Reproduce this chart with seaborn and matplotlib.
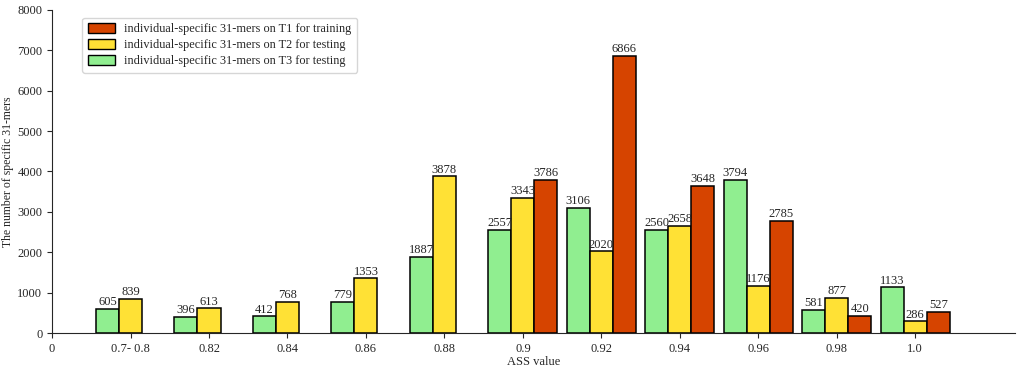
import numpy as np
import matplotlib
matplotlib.use("Agg")
import matplotlib.pyplot as plt
import pandas as pd
import seaborn as sns
from matplotlib.patches import Patch

# ASS value groups
groups = ["0.7- 0.8", "0.82", "0.84", "0.86", "0.88", "0.9", "0.92", "0.94", "0.96", "0.98", "1.0"]
t3_test = [605, 396, 412, 779, 1887, 2557, 3106, 2560, 3794, 581, 1133]
t2_test = [839, 613, 768, 1353, 3878, 3343, 2020, 2658, 1176, 877, 286]
t1_train = [np.nan, np.nan, np.nan, np.nan, np.nan, 3786, 6866, 3648, 2785, 420, 527]

series = ["T3", "T2", "T1"]
labels = {
    "T1": "individual-specific 31-mers on T1 for training",
    "T2": "individual-specific 31-mers on T2 for testing",
    "T3": "individual-specific 31-mers on T3 for testing",
}
colors = {"T3": "#90EE90", "T2": "#FFE135", "T1": "#D64400"}

pos = np.arange(1, len(groups) + 1)
df = pd.concat([
    pd.DataFrame({"pos": pos, "count": t3_test, "set": "T3"}),
    pd.DataFrame({"pos": pos, "count": t2_test, "set": "T2"}),
    pd.DataFrame({"pos": pos, "count": t1_train, "set": "T1"}),
], ignore_index=True).dropna()

sns.set_style("ticks")
plt.rcParams["font.family"] = ["Liberation Serif", "DejaVu Serif"]

fig, ax = plt.subplots(figsize=(10.21, 3.68), dpi=100)
fig.subplots_adjust(left=0.051, right=0.994, bottom=0.095, top=0.973)

sns.barplot(data=df, x="pos", y="count", hue="set", hue_order=series,
            palette=colors, native_scale=True, width=0.88, dodge=True,
            edgecolor="black", linewidth=1.1, saturation=1, legend=False,
            errorbar=None, ax=ax)

for cont in ax.containers:
    ax.bar_label(cont, fmt="%d", fontsize=9, padding=0.5)

ax.set_xticks([0] + list(pos))
ax.set_xticklabels(["0"] + groups, fontsize=9)
ax.set_xlim(0, 12.27)
ax.set_ylim(0, 8000)
ax.set_yticks(range(0, 8001, 1000))
ax.tick_params(axis="y", labelsize=9)
ax.set_xlabel("ASS value", fontsize=9, labelpad=1)
ax.set_ylabel("The number of specific 31-mers", fontsize=8.5)
ax.yaxis.set_label_coords(-0.04, 0.5)
sns.despine(ax=ax)

handles = [Patch(facecolor=colors[s], edgecolor="black", label=labels[s]) for s in ["T1", "T2", "T3"]]
ax.legend(handles=handles, loc="upper left", bbox_to_anchor=(0.025, 0.995), fontsize=8.8,
          frameon=True, handlelength=2.2, handleheight=0.9, borderpad=0.45, labelspacing=0.3)

fig.savefig("out.png", dpi=100)
